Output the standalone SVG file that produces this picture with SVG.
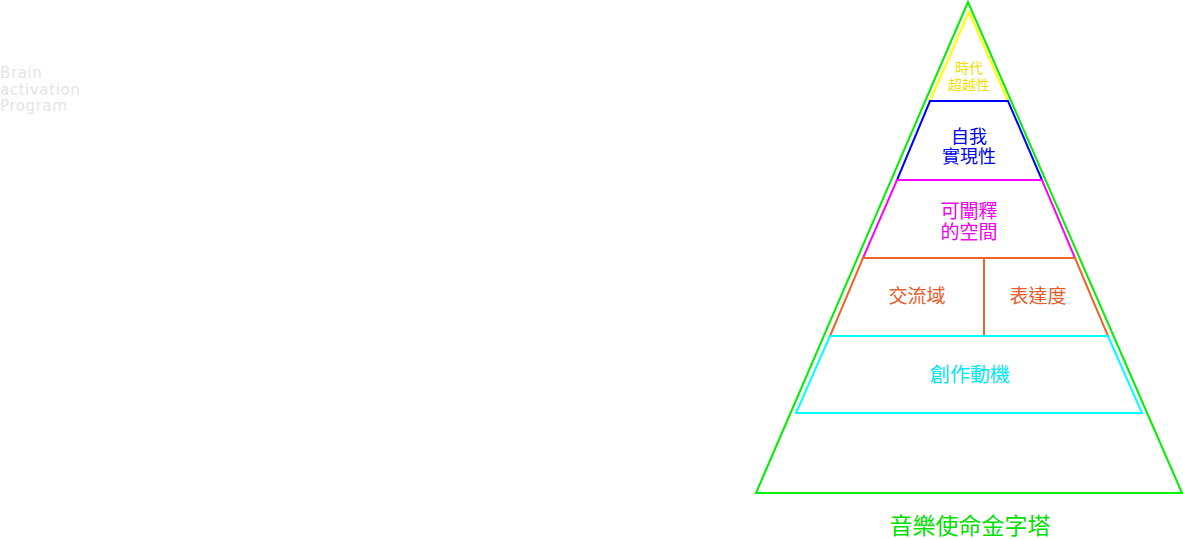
<svg xmlns="http://www.w3.org/2000/svg" width="1183" height="539" viewBox="0 0 1183 539">
<style>
.s{fill:none;stroke-width:2;stroke-linejoin:miter}
.t{font-family:"Liberation Serif","Noto Sans CJK TC",serif;text-anchor:middle}
.brand{font-family:"DejaVu Sans","Liberation Sans",sans-serif;font-size:15px;fill:#e4e4e4;letter-spacing:0.6px}
</style>
<rect width="1183" height="539" fill="#ffffff"/>
<g id="brand">
<text class="brand" x="0" y="78">Brain</text>
<text class="brand" x="0" y="95">activation</text>
<text class="brand" x="0" y="111">Program</text>
</g>
<g id="pyramid">
<polygon class="s" stroke="#00f000" points="968,2 756,493 1182,493"/>
<text class="t" x="970" y="534" font-size="23" fill="#00e000">音樂使命金字塔</text>
</g>
<g id="level-top">
<polygon class="s" stroke="#ffff00" points="969,12 930,101 1008,101"/>
<text class="t" x="969" y="73" font-size="14" fill="#f0e000">時代</text>
<text class="t" x="969" y="90" font-size="14" fill="#f0e000">超越性</text>
</g>
<g id="level-self">
<polygon class="s" stroke="#0000ff" points="930,101 1008,101 1042,180 897,180"/>
<text class="t" x="969" y="143" font-size="18" fill="#0000ee">自我</text>
<text class="t" x="969" y="163" font-size="18" fill="#0000ee">實現性</text>
</g>
<g id="level-interpret">
<polygon class="s" stroke="#ff00ff" points="897,180 1042,180 1075,258 863,258"/>
<text class="t" x="969" y="218" font-size="19" fill="#ee00ee">可闡釋</text>
<text class="t" x="969" y="239" font-size="19" fill="#ee00ee">的空間</text>
</g>
<g id="level-exchange">
<polygon class="s" stroke="#ec6428" points="863,258 1075,258 1108,336 830,336"/>
<line class="s" stroke="#ec6428" x1="984" y1="258" x2="984" y2="336"/>
<text class="t" x="917" y="303" font-size="19" fill="#e85a28">交流域</text>
<text class="t" x="1038" y="303" font-size="19" fill="#e85a28">表達度</text>
</g>
<g id="level-motive">
<polygon class="s" stroke="#00ffff" points="830,336 1108,336 1142,413 796,413"/>
<text class="t" x="970" y="382" font-size="20" fill="#00e8f0">創作動機</text>
</g>
</svg>
